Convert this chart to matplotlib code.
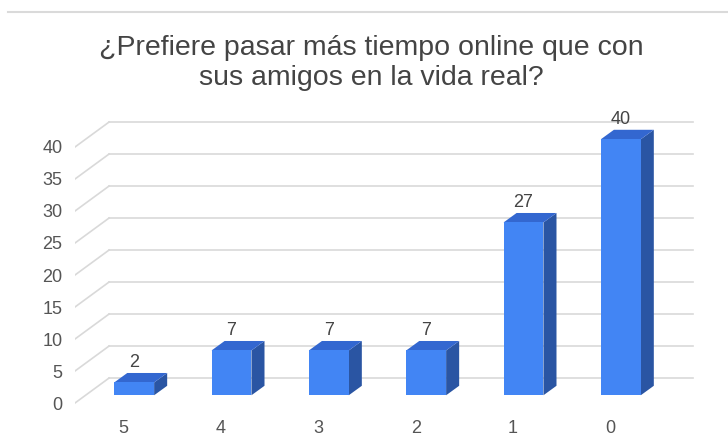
import matplotlib
matplotlib.use("Agg")
import matplotlib.pyplot as plt
from matplotlib.patches import Polygon
from matplotlib.lines import Line2D

plt.rcParams['font.family'] = ['Liberation Sans', 'DejaVu Sans']

title = "¿Prefiere pasar más tiempo online que con\nsus amigos en la vida real?"
categories = ['5', '4', '3', '2', '1', '0']
values = [2, 7, 7, 7, 27, 40]
yticks = [0, 5, 10, 15, 20, 25, 30, 35, 40]

front_col = '#4285f4'
top_col = '#3367d0'
side_col = '#2a55a3'
grid_col = '#d9d9d9'
text_col = '#444444'

# pseudo 3d geometry (data units)
floor_dx, floor_dy = 0.35, 3.9
bar_dx, bar_dy = 0.134, 1.48
bar_w = 0.41
off_x = (floor_dx - bar_dx) / 2
off_y = (floor_dy - bar_dy) / 2

fig = plt.figure(figsize=(7.28, 4.46), dpi=100)
W, H = 728, 446
ax = fig.add_axes([75 / W, (H - 410) / H, 625 / W, 300 / H])
ax.set_xlim(-0.5, -0.5 + 625 / 97.33)
ax.set_ylim(-7 / 6.4, 293 / 6.4)
for s in ax.spines.values():
    s.set_visible(False)

# back wall grid + left diagonals
x0, x1 = -0.5, len(categories) - 0.5
for t in yticks:
    ax.plot([x0, x0 + floor_dx], [t, t + floor_dy], color=grid_col, lw=1.2, zorder=1)
    ax.plot([x0 + floor_dx, x1 + floor_dx], [t + floor_dy, t + floor_dy],
            color=grid_col, lw=1.2, zorder=1)

xs = list(range(len(categories)))
for x, v in zip(xs, values):
    l = x + off_x - bar_w / 2
    r = l + bar_w
    b = off_y
    t = off_y + v
    ax.add_patch(Polygon([(r, b), (r + bar_dx, b + bar_dy), (r + bar_dx, t + bar_dy), (r, t)],
                         closed=True, facecolor=side_col, edgecolor='none', zorder=3))
    ax.add_patch(Polygon([(l, t), (r, t), (r + bar_dx, t + bar_dy), (l + bar_dx, t + bar_dy)],
                         closed=True, facecolor=top_col, edgecolor='none', zorder=3))
    ax.text(x + off_x, t + bar_dy + 1.6, str(v), ha='center', va='center',
            fontsize=13, color=text_col, zorder=5)

ax.bar([x + off_x for x in xs], values, width=bar_w, bottom=off_y,
       color=front_col, zorder=4)

ax.set_yticks(yticks)
ax.set_yticklabels([str(t) for t in yticks])
ax.set_xticks(xs)
ax.set_xticklabels(categories)
ax.tick_params(axis='y', length=0, pad=9, labelsize=13, labelcolor='#555555')
ax.tick_params(axis='x', length=0, pad=7, labelsize=13, labelcolor='#555555')

fig.text(371 / W, 1 - 63 / H, title, ha='center', va='center', fontsize=20.5,
         color=text_col, linespacing=1.2)
fig.add_artist(Line2D([8 / W, 1], [1 - 12 / H, 1 - 12 / H], color='#dadada', lw=1.5))

fig.savefig('out.png', dpi=100)
